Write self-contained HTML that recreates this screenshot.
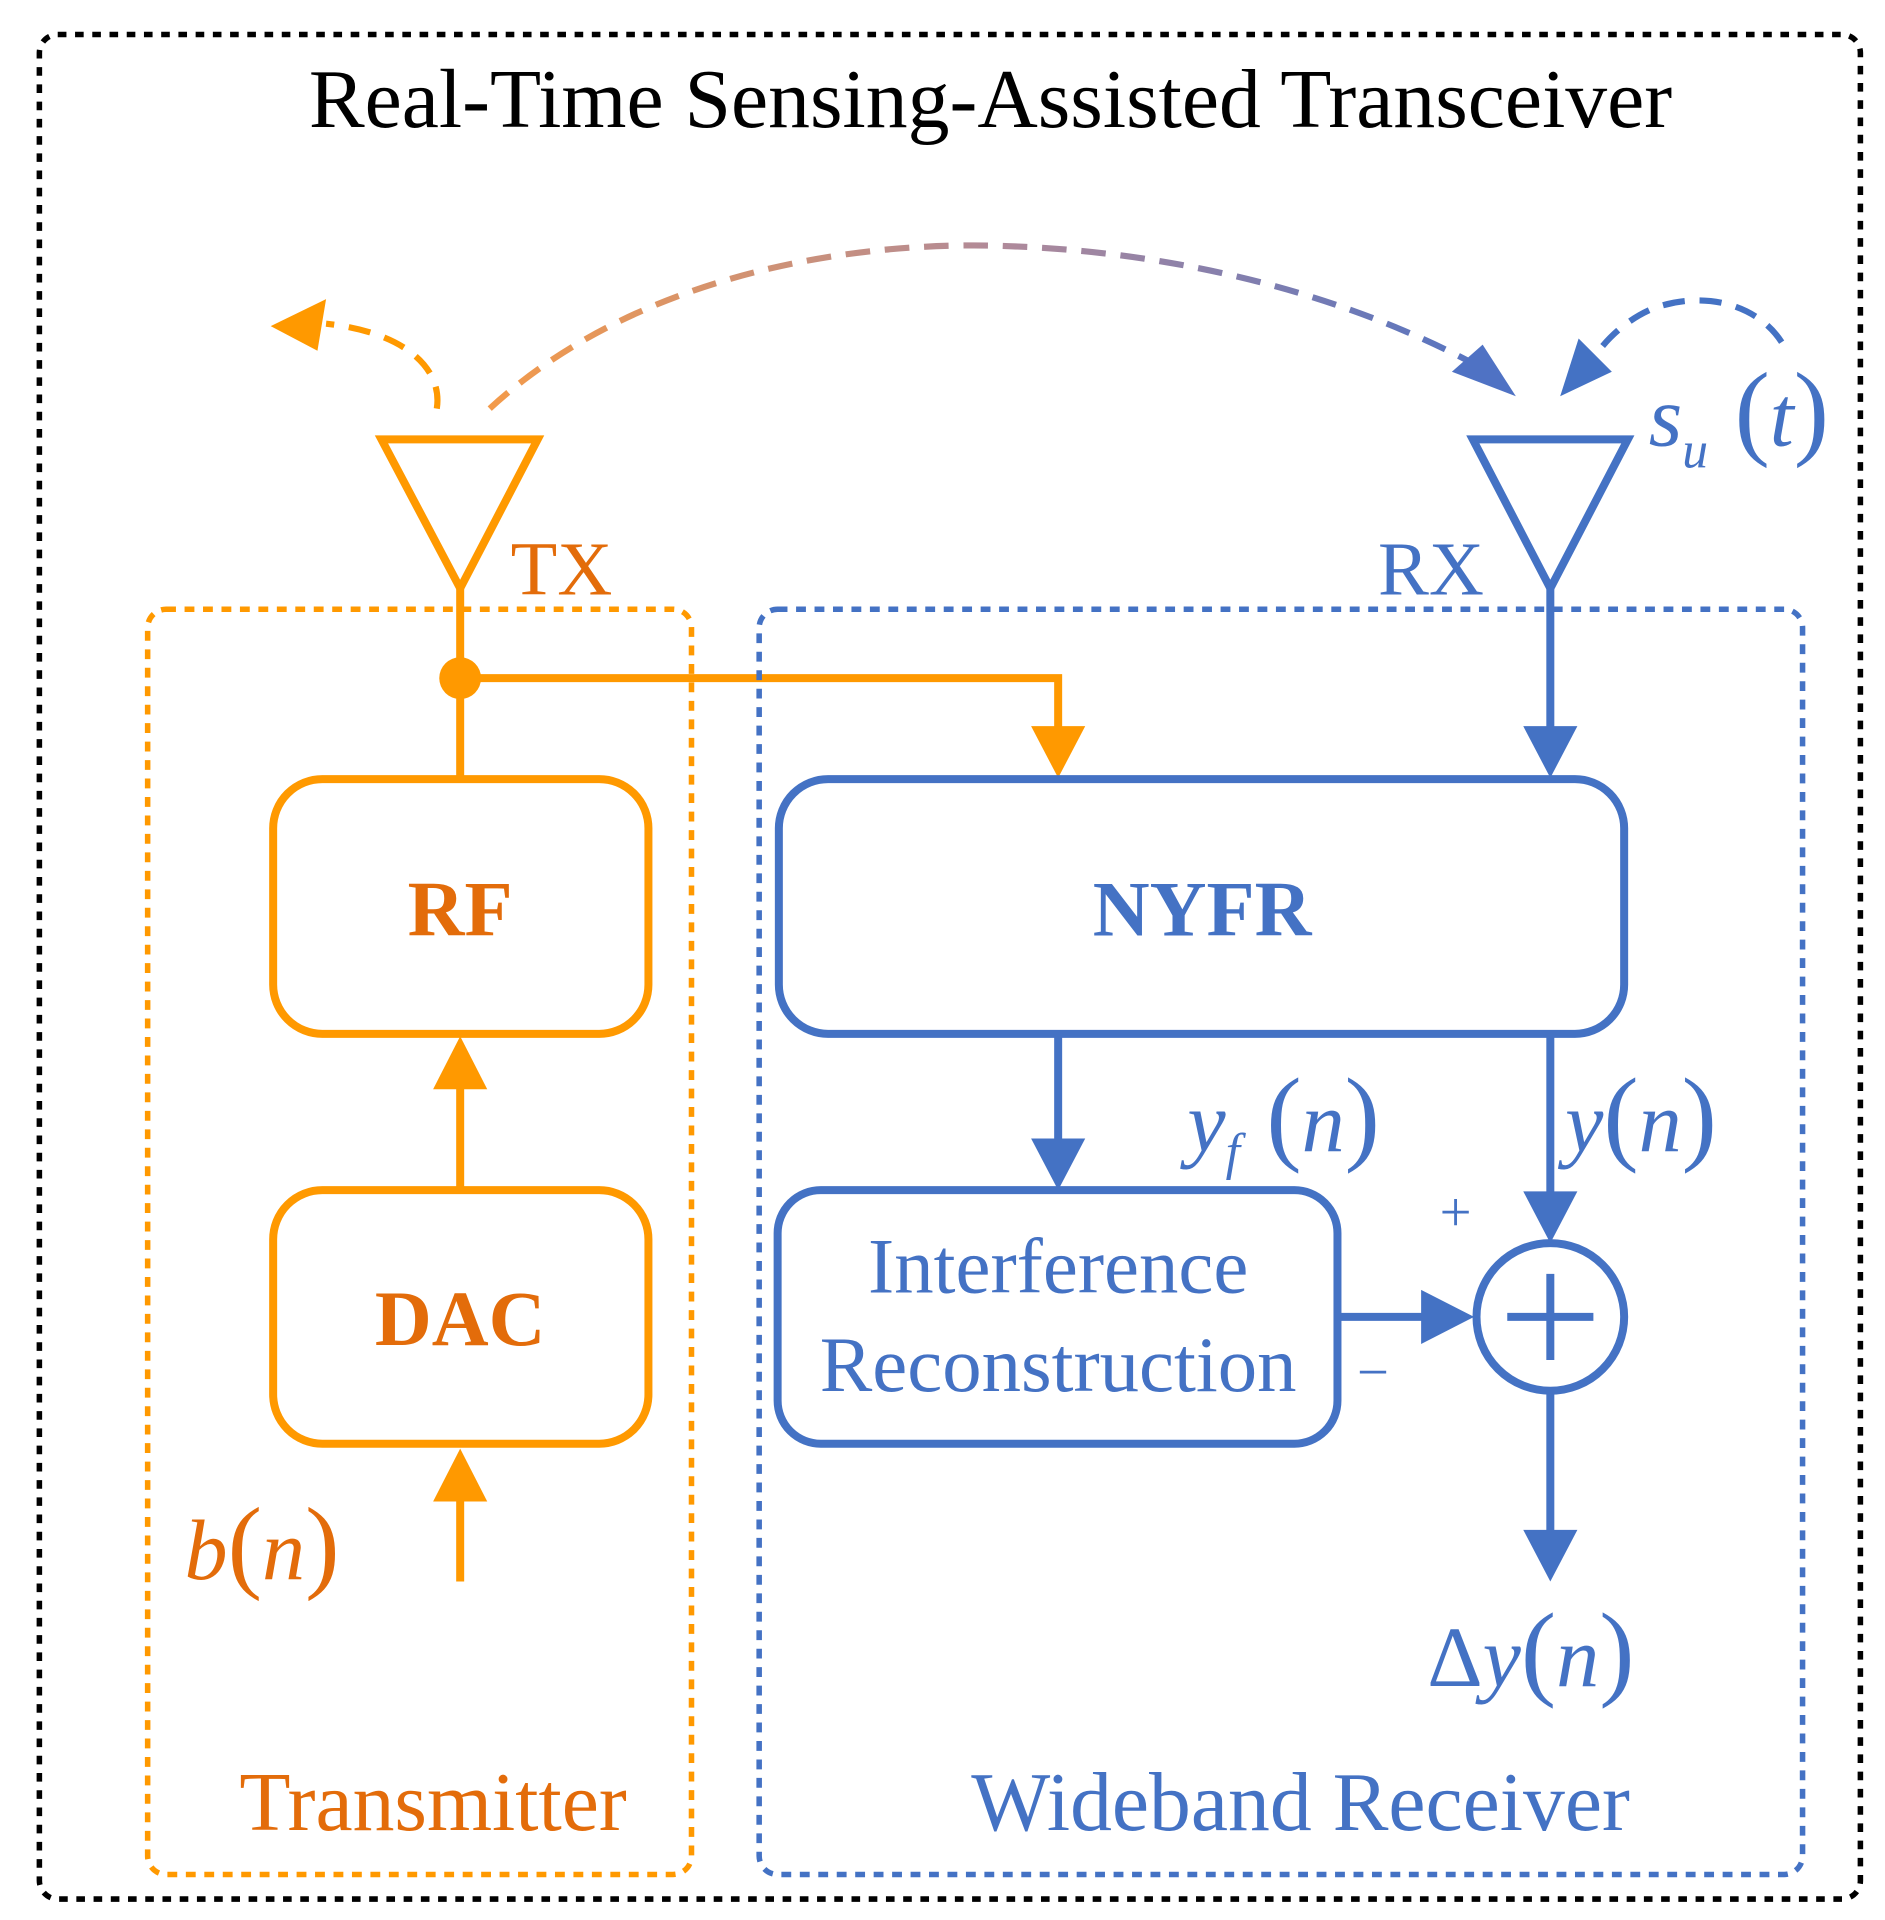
<!DOCTYPE html>
<html><head><style>html,body{margin:0;padding:0;background:#fff}svg{display:block}</style></head><body>
<svg width="1885" height="1920" viewBox="0 0 1532 1560" preserveAspectRatio="none" xmlns="http://www.w3.org/2000/svg" font-family="Liberation Serif, serif">
<defs><linearGradient id="g" x1="398" y1="0" x2="1230" y2="0" gradientUnits="userSpaceOnUse"><stop offset="0" stop-color="#f39a4a"/><stop offset="0.5" stop-color="#b08a9a"/><stop offset="1" stop-color="#4f72c4"/></linearGradient></defs>
<rect x="32" y="28" width="1480" height="1515" rx="15" fill="none" stroke="#000" stroke-width="4.5" stroke-dasharray="7,7"/>
<text x="805" y="103" font-size="68" text-anchor="middle">Real-Time Sensing-Assisted Transceiver</text>
<!-- Transmitter -->
<g stroke="#ff9900" fill="none" stroke-width="6.5">
<rect x="120" y="495" width="442" height="1028" rx="15" stroke-width="4.5" stroke-dasharray="8,7"/>
<polygon points="310,357 437,357 374,478"/>
<line x1="374" y1="478" x2="374" y2="633"/>
<polyline points="374,551 860,551 860,595"/>
<rect x="222" y="633" width="305" height="207" rx="40"/>
<rect x="222" y="967" width="305" height="206" rx="40"/>
<line x1="374" y1="967" x2="374" y2="880"/>
<line x1="374" y1="1285" x2="374" y2="1215"/>
<path d="M355,332 C360,300 330,270 265,263" stroke-width="5" stroke-dasharray="18,12"/>
</g>
<g fill="#ff9900">
<circle cx="374" cy="551" r="17"/>
<polygon points="838,590 882,590 860,632"/>
<polygon points="352,885 396,885 374,842"/>
<polygon points="352,1220 396,1220 374,1177"/>
<polygon points="220,265 265,243 258,285"/>
</g>
<g fill="#e36c0a">
<text x="415" y="483" font-size="62">TX</text>
<text x="374" y="760" font-size="64" font-weight="bold" text-anchor="middle">RF</text>
<text x="374" y="1093" font-size="64" font-weight="bold" text-anchor="middle">DAC</text>
<text x="150" y="1283" font-size="70" font-style="italic">b<tspan font-style="normal" font-size="84">(</tspan>n<tspan font-style="normal" font-size="84">)</tspan></text>
<text x="352" y="1487" font-size="68" text-anchor="middle">Transmitter</text>
</g>
<!-- big arc -->
<path d="M398,332 C520,220 700,195 820,200 C960,205 1100,240 1215,305" fill="none" stroke="url(#g)" stroke-width="5" stroke-dasharray="20,12"/>
<polygon points="1232,322 1180,302 1205,280" fill="#4f72c4"/>
<!-- Receiver -->
<g stroke="#4472c4" fill="none" stroke-width="6.5">
<rect x="617" y="495" width="848" height="1028" rx="15" stroke-width="4.5" stroke-dasharray="8,7"/>
<polygon points="1197,357 1323,357 1260,478"/>
<line x1="1260" y1="478" x2="1260" y2="595"/>
<rect x="633" y="633" width="687" height="207" rx="40"/>
<rect x="632" y="967" width="455" height="206" rx="35"/>
<line x1="860" y1="840" x2="860" y2="925"/>
<line x1="1260" y1="840" x2="1260" y2="970"/>
<circle cx="1260" cy="1070" r="60"/>
<line x1="1225" y1="1070" x2="1295" y2="1070"/>
<line x1="1260" y1="1035" x2="1260" y2="1105"/>
<line x1="1087" y1="1070" x2="1160" y2="1070"/>
<line x1="1260" y1="1130" x2="1260" y2="1245"/>
<path d="M1448,278 C1430,250 1390,235 1345,250 C1320,260 1300,280 1290,300" stroke-width="5" stroke-dasharray="18,12"/>
</g>
<g fill="#4472c4">
<polygon points="1238,590 1282,590 1260,632"/>
<polygon points="838,925 882,925 860,967"/>
<polygon points="1238,968 1282,968 1260,1010"/>
<polygon points="1155,1048 1155,1092 1198,1070"/>
<polygon points="1238,1243 1282,1243 1260,1285"/>
<polygon points="1268,322 1283,275 1310,302"/>
<text x="1120" y="483" font-size="62">RX</text>
<text x="977" y="760" font-size="64" font-weight="bold" text-anchor="middle">NYFR</text>
<text x="860" y="1050" font-size="64" text-anchor="middle">Interference</text>
<text x="860" y="1130" font-size="64" text-anchor="middle">Reconstruction</text>
<text x="965" y="935" font-size="70" font-style="italic">y<tspan font-size="42" dy="15">f</tspan><tspan dy="-15" font-style="normal" font-size="86"> (</tspan>n<tspan font-style="normal" font-size="86">)</tspan></text>
<text x="1272" y="935" font-size="70" font-style="italic">y<tspan font-style="normal" font-size="86">(</tspan>n<tspan font-style="normal" font-size="86">)</tspan></text>
<text x="1170" y="1000" font-size="46">+</text>
<text x="1103" y="1130" font-size="46">−</text>
<text x="1160" y="1370" font-size="70"><tspan>Δ</tspan><tspan font-style="italic">y</tspan><tspan font-size="86">(</tspan><tspan font-style="italic">n</tspan><tspan font-size="86">)</tspan></text>
<text x="1340" y="362" font-size="70" font-style="italic">s<tspan font-size="42" dy="18">u</tspan><tspan dy="-18" font-style="normal" font-size="86"> (</tspan>t<tspan font-style="normal" font-size="86">)</tspan></text>
<text x="1057" y="1487" font-size="68" text-anchor="middle">Wideband Receiver</text>
</g>
</svg>
</body></html>
